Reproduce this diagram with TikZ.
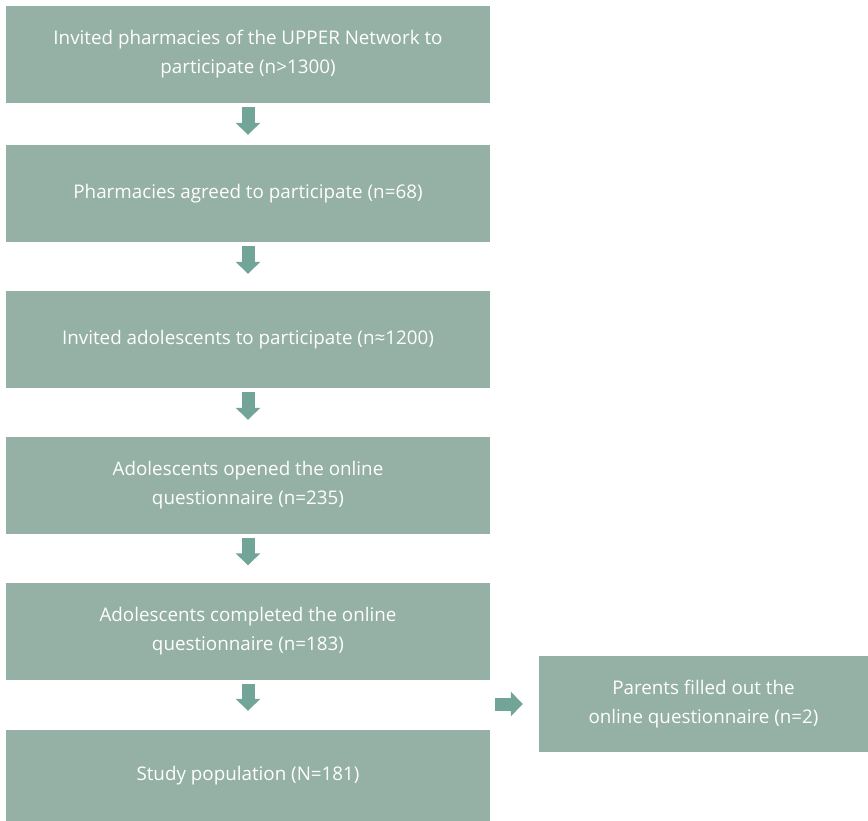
\documentclass[tikz,border=0pt]{standalone}
\usepackage{fontspec}
\setmainfont{Open Sans}
\usetikzlibrary{arrows.meta}
\definecolor{boxgreen}{HTML}{95B0A4}
\definecolor{arrowgreen}{HTML}{72A498}
\tikzset{
  stagebox/.style={rectangle, fill=boxgreen, text=white, align=center,
    minimum width=484pt, minimum height=97pt, inner sep=0pt,
    font=\fontsize{18.8}{29}\selectfont},
  sidebox/.style={stagebox, minimum width=329pt, minimum height=96pt},
  blockarrow/.style={draw=arrowgreen, line width=13pt,
    -{Triangle[length=12pt, width=24pt]}, shorten <=4pt}
}
\begin{document}
\begin{tikzpicture}[x=1pt, y=-1pt]
    \useasboundingbox (0, 0) rectangle (868, 821);
    \node[stagebox] (invited) at (248, 54.5) {Invited pharmacies of the UPPER Network to\\participate (n>1300)};
    \node[stagebox] (agreed) at (248, 193.5) {Pharmacies agreed to participate (n=68)};
    \node[stagebox] (adol) at (248, 339.5) {Invited adolescents to participate (n≈1200)};
    \node[stagebox] (opened) at (248, 485.5) {Adolescents opened the online\\questionnaire (n=235)};
    \node[stagebox] (completed) at (248, 631) {Adolescents completed the online\\questionnaire (n=183)};
    \node[stagebox, minimum height=91pt] (study) at (248, 775.5) {Study population (N=181)};
    \node[sidebox] (parents) at (703.5, 704) {Parents filled out the\\online questionnaire (n=2)};
    % arrows down the column
    \draw[blockarrow, shorten >=10pt] (invited) -- (agreed);
    \draw[blockarrow, shorten >=17pt] (agreed) -- (adol);
    \draw[blockarrow, shorten >=17pt] (adol) -- (opened);
    \draw[blockarrow, shorten >=17pt] (opened) -- (completed);
    \draw[blockarrow, shorten >=19pt] (completed) -- (study);
    \draw[blockarrow, shorten <=5pt, shorten >=16pt] (completed.east |- parents.west) -- (parents.west);
\end{tikzpicture}
\end{document}
